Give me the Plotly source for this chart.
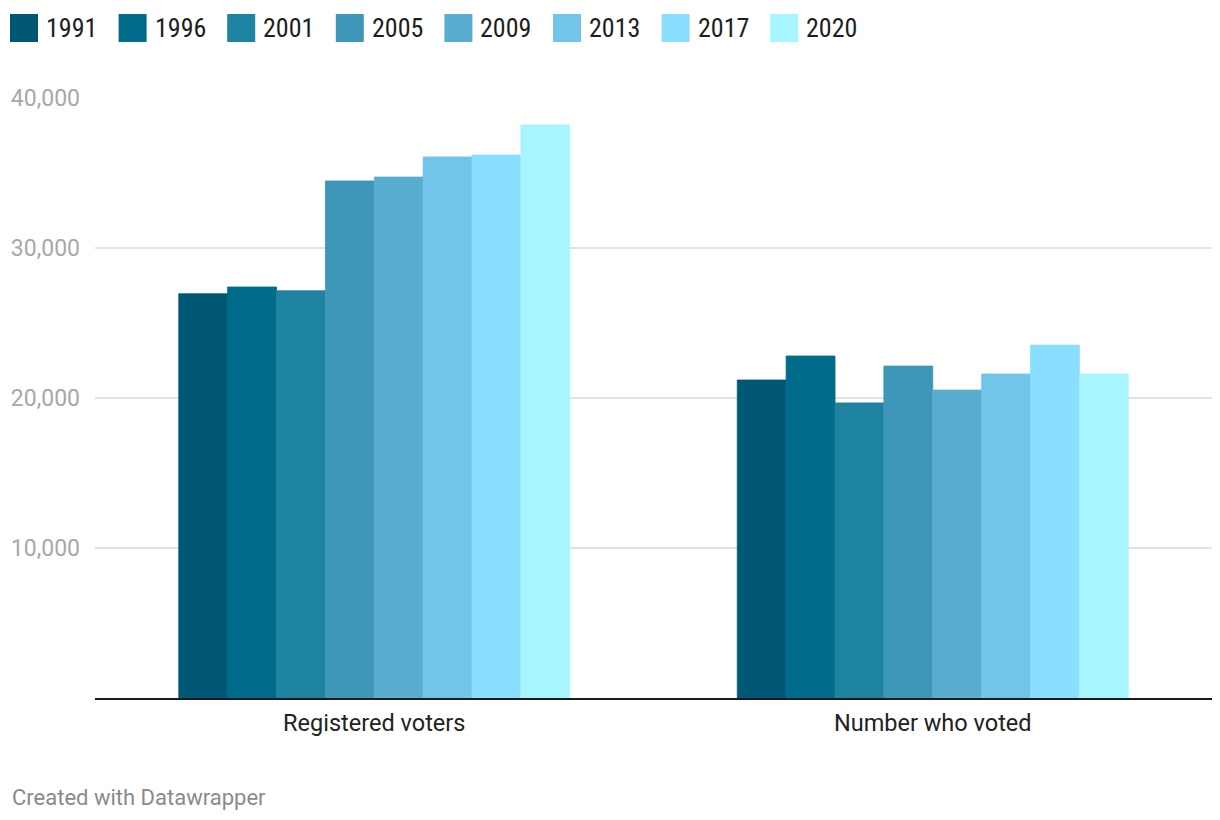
import plotly.graph_objects as go

categories = ["Registered voters", "Number who voted"]
years = ["1991", "1996", "2001", "2005", "2009", "2013", "2017", "2020"]
registered = [26950, 27400, 27150, 34470, 34730, 36070, 36200, 38200]
voted = [21200, 22800, 19670, 22130, 20530, 21600, 23530, 21600]
colors = ["#005875", "#006b8a", "#1e82a1", "#3e97b8", "#59aed0", "#72c4e8", "#8adeff", "#a6f5ff"]

W, H = 1220, 820
ML, MR, MT, MB = 95, 8, 98, 122
PW, PH = W - ML - MR, H - MT - MB

def px_x(p):
    return (p - ML) / PW

def px_y(p):
    return (H - MB - p) / PH

fig = go.Figure()
for i, y in enumerate(years):
    fig.add_trace(go.Bar(
        x=categories, y=[registered[i], voted[i]], name=y,
        marker=dict(color=colors[i], line=dict(width=0.8, color=colors[i])),
        showlegend=False,
    ))

# custom legend
shapes = []
annotations = []
for i, y in enumerate(years):
    left = 10 + i * 108.6
    shapes.append(dict(type="rect", xref="paper", yref="paper",
                       x0=px_x(left), x1=px_x(left + 28),
                       y0=px_y(42), y1=px_y(14),
                       fillcolor=colors[i], line=dict(width=0)))
    annotations.append(dict(text=y, xref="paper", yref="paper",
                            x=px_x(left + 34), y=px_y(28), xanchor="left", yanchor="middle",
                            showarrow=False,
                            font=dict(family="Liberation Sans Narrow, Roboto Condensed, Roboto",
                                      size=26, color="#1d1d1d")))

annotations.append(dict(text="Created with Datawrapper", xref="paper", yref="paper",
                        x=px_x(10), y=px_y(797), xanchor="left", yanchor="middle",
                        showarrow=False, font=dict(family="Roboto", size=22, color="#8a8a8a")))

fig.update_layout(
    width=W, height=H,
    margin=dict(l=ML, r=MR, t=MT, b=MB),
    paper_bgcolor="white", plot_bgcolor="white",
    barmode="group", bargap=0.3, bargroupgap=0,
    font=dict(family="Roboto"),
    shapes=shapes, annotations=annotations,
    xaxis=dict(showline=True, linecolor="#1a1a1a", linewidth=2, showgrid=False,
               tickfont=dict(size=23.5, color="#222"), ticks="", ticklabelstandoff=3),
    yaxis=dict(range=[0, 40000], tickvals=[10000, 20000, 30000, 40000],
               ticktext=["10,000", "20,000", "30,000", "40,000"],
               showgrid=True, gridcolor="#e3e3e3", gridwidth=1.5, zeroline=False,
               tickfont=dict(size=23, color="#a8a8a8"), ticks="", ticklabelstandoff=14),
)

fig.write_html("out.html", config={"displayModeBar": False},
               post_script="document.body.style.margin='0';")
